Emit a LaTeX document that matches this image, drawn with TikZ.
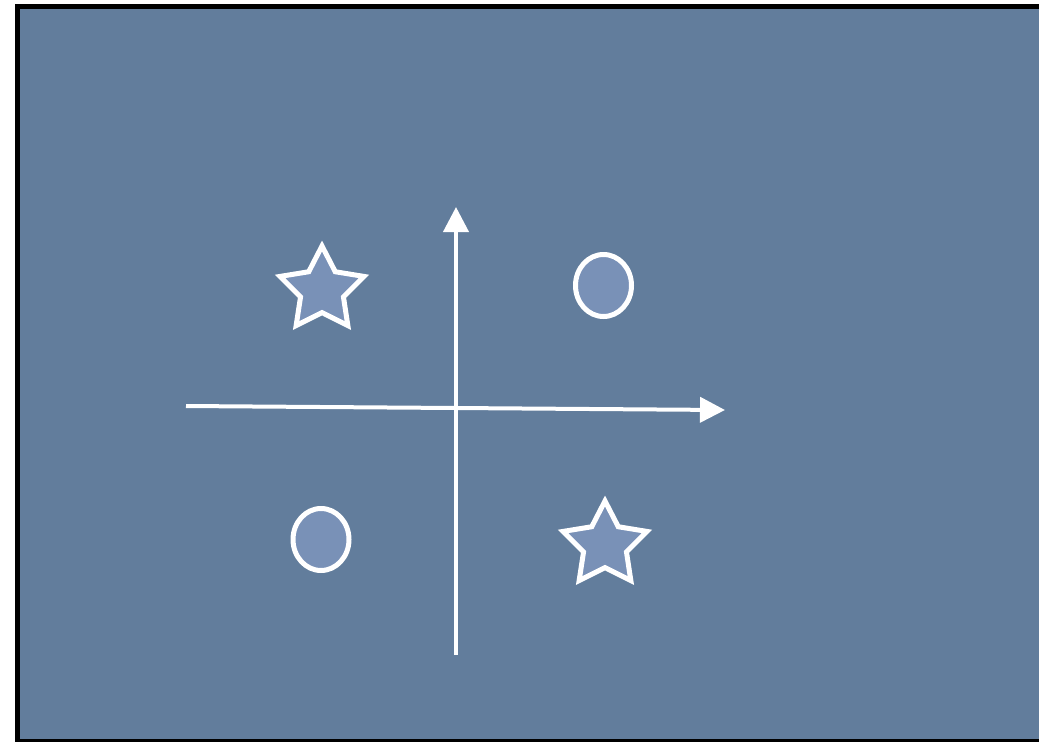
\documentclass[tikz,border=0pt]{standalone}
\usetikzlibrary{shapes.geometric,arrows.meta}
\definecolor{bgblue}{RGB}{98,125,156}
\definecolor{shapefill}{RGB}{121,145,183}
\tikzset{
  mark shape/.style={draw=white,line width=5pt,fill=shapefill,inner sep=0pt,outer sep=0pt},
  starshape/.style={mark shape,star,star points=5,star point ratio=1.95,minimum size=88pt},
  ovalshape/.style={mark shape,ellipse,minimum width=56pt,minimum height=62pt},
  axis/.style={draw=white,line width=4pt,-{Triangle[length=25pt,width=25pt]}},
}
\begin{document}
\begin{tikzpicture}[x=1pt,y=-1pt]
\useasboundingbox (0,0) rectangle (1039,742);
\fill[white] (0,0) rectangle (1039,742);
\fill[black] (15,4) rectangle (1039,742);
\fill[bgblue] (20,9) rectangle (1039,739);
% axes
\coordinate (xl) at (186,406);
\coordinate (xr) at (725,410);
\coordinate (yb) at (456,655);
\coordinate (yt) at (456,207);
\draw[axis] (xl) -- (xr);
\draw[axis] (yb) -- (yt);
% shapes
\node[starshape] (s1) at (322,290) {};
\node[starshape] (s2) at (605,545) {};
\node[ovalshape] (c1) at (603.5,285.5) {};
\node[ovalshape] (c2) at (321,539.5) {};
\end{tikzpicture}
\end{document}
